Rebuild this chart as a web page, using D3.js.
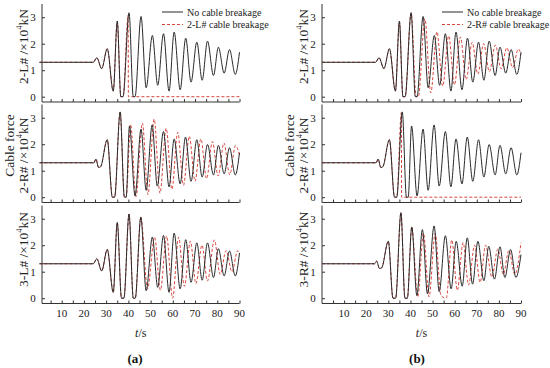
<!DOCTYPE html>
<html>
<head>
<meta charset="utf-8">
<script src="https://cdn.jsdelivr.net/npm/d3@7"></script>
<style>
  body { margin: 0; background: #fff; }
  svg { display: block; font-family: "Liberation Serif", "Times New Roman", serif; }
</style>
</head>
<body>
<div id="chart"></div>
<script>
// Data: [t (s), cable force (x10^4 kN)] -----------------------------------------------------------------------------
const xTicks = [10, 20, 30, 40, 50, 60, 70, 80, 90];
const yTicks = [0, 1, 2, 3];

// 2-L# cable, no breakage
const noBreak2L = [[0,1.3],[24.2,1.3],[25.8,1.47],[28,1.06],[30.5,1.81],[33.2,0.21],[35,2.85],[36.6,0],[37.6,0],
  [40.3,3.17],[42.2,0],[43,0],[45.7,3.03],[48,0.34],[50.8,2.31],[53.2,0.43],[55.8,2.38],[58.3,0.21],[60.6,2.44],
  [63.3,0.26],[65.8,2.21],[68.2,0.55],[70.8,2.06],[73.2,0.62],[75.6,2.1],[78.3,0.8],[80.5,1.87],[83.1,0.89],
  [85.5,1.78],[88.1,0.84],[90,1.68]];
// 2-L# cable when 2-L# breaks
const break2L_2L = [[0,1.3],[24.2,1.3],[25.8,1.47],[28,1.06],[30.5,1.81],[33.2,0.21],[35,2.85],[36.6,0],[37.6,0],
  [39.9,3.08],[40.0,0],[90,0]];
// 2-L# cable when 2-R# breaks
const break2R_2L = [[0,1.3],[24.2,1.3],[25.8,1.47],[28,1.06],[30.5,1.81],[33.2,0.21],[35,2.85],[36.6,0],[37.6,0],
  [40.3,3.17],[42.6,0],[43.6,0],[46.5,2.95],[49.2,0.15],[52,2.45],[54.6,0.4],[57.3,2.3],[59.9,0.45],[62.6,2.25],
  [65.2,0.65],[67.9,2.05],[70.5,0.85],[73.1,2.0],[75.7,0.95],[78.4,1.95],[81,1.05],[83.6,1.85],[86.2,1.1],
  [88.8,1.8],[90,1.6]];

// 2-R# cable, no breakage
const noBreak2R = [[0,1.3],[24.5,1.3],[25.4,1.44],[26.6,1.12],[27.5,1.15],[30.5,2.17],[32.8,0],[33.8,0],[36.3,3.22],
  [38.2,0],[39,0],[40.5,2.69],[43,0.05],[45.7,2.57],[48,0.26],[50.7,2.73],[53,0.42],[55.8,2.48],[58.3,0.39],
  [60.6,2.2],[63.3,0.5],[65.7,2.27],[68.2,0.6],[70.8,2.17],[73.2,0.76],[75.6,1.99],[78.3,0.84],[80.5,1.96],
  [83.1,0.88],[85.5,1.87],[88.1,0.84],[90,1.68]];
// 2-R# cable when 2-L# breaks
const break2L_2R = [[0,1.3],[24.5,1.3],[25.4,1.44],[26.6,1.12],[27.5,1.15],[30.5,2.17],[32.8,0],[33.8,0],[36.3,3.22],
  [38.2,0],[39,0],[41,2.75],[43.4,0.02],[46.3,2.8],[48.8,0.1],[51.6,2.95],[54.2,0.15],[57,2.6],[59.6,0.3],
  [62.2,2.45],[64.8,0.45],[67.4,2.3],[70,0.6],[72.6,2.2],[75.2,0.7],[77.8,2.1],[80.4,0.8],[83,2.05],[85.6,0.85],
  [88.2,1.95],[90,1.6]];
// 2-R# cable when 2-R# breaks
const break2R_2R = [[0,1.3],[24.5,1.3],[25.4,1.44],[26.6,1.12],[27.5,1.15],[30.5,2.17],[32.8,0],[33.8,0],
  [35.9,3.2],[36.0,0],[90,0]];

// 3-L# cable
const noBreak3L = [[0,1.3],[24.2,1.3],[25.8,1.49],[28,1.03],[30.5,1.84],[33.2,0.22],[35,2.86],[36.9,0],[38,0],
  [40.3,3.18],[42.2,0],[43.1,0],[45.6,3.06],[48,0.28],[50.8,2.31],[53.2,0.41],[55.8,2.37],[58.3,0.22],[60.6,2.46],
  [63.3,0.35],[65.8,2.21],[68.2,0.6],[70.8,2.09],[73.2,0.68],[75.6,2.09],[78.3,0.78],[80.5,1.87],[83.1,0.84],
  [85.5,1.78],[88.1,0.84],[90,1.71]];
const break2L_3L = [[0,1.3],[24.2,1.3],[25.8,1.49],[28,1.03],[30.5,1.84],[33.2,0.22],[35,2.86],[36.9,0],[38,0],
  [40.3,3.18],[42.2,0],[43.1,0],[45.6,3.06],[48.6,0.35],[51.8,2.3],[54.4,0.3],[57.2,2.35],[59.9,0],[62.6,2.3],
  [65.2,0.45],[67.9,2.15],[70.4,0.55],[73.1,2.0],[75.6,0.65],[78.7,2.2],[81.3,0.9],[84,1.8],[86.6,1.0],
  [89.2,1.8],[90,1.7]];

// 3-R# cable
const noBreak3R = [[0,1.3],[23.8,1.3],[24.7,1.4],[26,1.12],[27,1.15],[30,2.15],[32.1,0],[33.3,0],[35.7,3.23],
  [37.5,0],[38.6,0],[40.6,2.69],[42.9,0.1],[45.4,2.59],[47.7,0.16],[50.7,2.73],[53,0.25],[55.8,2.36],[58.4,0.35],
  [60.7,2.15],[63.4,0.45],[65.7,2.28],[68.1,0.53],[70.5,2.15],[73.2,0.66],[75.4,1.96],[78,0.72],[80.5,1.94],
  [82.7,0.78],[85.3,1.84],[87.7,0.78],[90,1.65]];
const break2R_3R = [[0,1.3],[23.8,1.3],[24.7,1.4],[26,1.12],[27,1.15],[30,2.15],[32.1,0],[33.3,0],[35.7,3.23],
  [37.5,0],[38.6,0],[40.6,2.69],[43.3,0.05],[45.9,2.45],[48.4,0.05],[51.2,2.45],[53.8,0.1],[56.2,0],[58.7,2.2],
  [61.2,0.3],[63.8,2.1],[66.3,0.5],[69,2.0],[71.5,0.6],[74,2.0],[76.8,0.8],[79.5,1.85],[82,0.9],[84.5,1.8],
  [87.2,0.9],[90,2.1]];

// Layout ---------------------------------------------------------------------------------------------------------
const width = 550;
const height = 368;
const panelTops = [4, 104.5, 205.5];
const panelHeight = 98;
const yDomain = [-0.2, 3.5];
const labelCenters = [46.5, 155.5, 249.5];

const sides = [
  { axisX: 42, xMin: 1, xRange: [41.7, 239.5], legendX: 162, letter: "(a)", letterX: 135,
    broken: "2-L#", panels: [
      { name: "2-L#", ref: noBreak2L, brk: break2L_2L },
      { name: "2-R#", ref: noBreak2R, brk: break2L_2R },
      { name: "3-L#", ref: noBreak3L, brk: break2L_3L }] },
  { axisX: 322, xMin: 0, xRange: [322, 521], legendX: 442, letter: "(b)", letterX: 417,
    broken: "2-R#", panels: [
      { name: "2-L#", ref: noBreak2L, brk: break2R_2L },
      { name: "2-R#", ref: noBreak2R, brk: break2R_2R },
      { name: "3-R#", ref: noBreak3R, brk: break2R_3R }] }
];

const axisColor = "#333";
const refColor = "#2a2a2a";
const brkColor = "#d9463e";

const svg = d3.select("#chart")
  .append("svg")
  .attr("width", width)
  .attr("height", height);

sides.forEach(function(side) {
  const xScale = d3.scaleLinear()
    .domain([side.xMin, 90])
    .range(side.xRange);

  side.panels.forEach(function(panel, i) {
    const top = panelTops[i];
    const yScale = d3.scaleLinear()
      .domain(yDomain)
      .range([top + panelHeight, top]);

    const g = svg.append("g");

    // y axis
    const yAxis = g.append("g")
      .attr("transform", "translate(" + side.axisX + ",0)")
      .call(d3.axisRight(yScale).tickValues(yTicks).tickSize(3).tickFormat(""));
    yAxis.select(".domain").attr("d", "M0," + top + "V" + (top + panelHeight));
    yAxis.selectAll("path, line").attr("stroke", axisColor).attr("stroke-width", 1);

    g.selectAll(".ylab")
      .data(yTicks)
      .join("text")
      .attr("x", side.axisX - 9)
      .attr("y", d => yScale(d) + 3.8)
      .attr("text-anchor", "middle")
      .attr("font-size", 11)
      .attr("fill", "#222")
      .text(d => d);

    // x axis, ticks pointing up
    const xAxis = g.append("g")
      .attr("transform", "translate(0," + (top + panelHeight) + ")")
      .call(d3.axisTop(xScale).tickValues(d3.range(5, 91, 5)).tickSize(3).tickFormat(""));
    xAxis.select(".domain").attr("d", "M" + side.axisX + ",0H" + side.xRange[1]);
    xAxis.selectAll("path, line").attr("stroke", axisColor).attr("stroke-width", 1);

    if (i === 2) {
      g.selectAll(".xlab")
        .data(xTicks)
        .join("text")
        .attr("x", d => xScale(d))
        .attr("y", top + panelHeight + 13)
        .attr("text-anchor", "middle")
        .attr("font-size", 11)
        .attr("fill", "#222")
        .text(d => d);
    }

    // y label
    const lx = side.axisX - 19;
    const label = g.append("text")
      .attr("transform", "translate(" + lx + "," + labelCenters[i] + ") rotate(-90)")
      .attr("text-anchor", "middle")
      .attr("dominant-baseline", "central")
      .attr("font-size", 13.5)
      .attr("fill", "#222");
    label.append("tspan").text(panel.name + " /\u00d710");
    label.append("tspan").attr("dy", -4.5).attr("font-size", 8.5).text("4");
    label.append("tspan").attr("dy", 4.5).text("kN");

    if (i === 1) {
      g.append("text")
        .attr("transform", "translate(" + (side.axisX - 33) + "," + (labelCenters[i] - 10) + ") rotate(-90)")
        .attr("text-anchor", "middle")
        .attr("dominant-baseline", "central")
        .attr("font-size", 13.5)
        .attr("fill", "#222")
        .text("Cable force");
    }

    // lines
    const line = d3.line()
      .x(d => xScale(d[0]))
      .y(d => yScale(d[1]))
      .curve(d3.curveMonotoneX);

    g.append("path")
      .attr("d", line(panel.brk))
      .attr("fill", "none")
      .attr("stroke", brkColor)
      .attr("stroke-width", 1)
      .attr("stroke-dasharray", "3,2");

    g.append("path")
      .attr("d", line(panel.ref))
      .attr("fill", "none")
      .attr("stroke", refColor)
      .attr("stroke-width", 1);
  });

  // legend
  const legend = svg.append("g");
  const rows = [
    { text: "No cable breakage", color: refColor, dash: null },
    { text: side.broken + " cable breakage", color: brkColor, dash: "3,2" }
  ];
  rows.forEach(function(r, k) {
    const y = 12 + k * 12.5;
    legend.append("line")
      .attr("x1", side.legendX).attr("x2", side.legendX + 21)
      .attr("y1", y).attr("y2", y)
      .attr("stroke", r.color)
      .attr("stroke-width", 1)
      .attr("stroke-dasharray", r.dash);
    legend.append("text")
      .attr("x", side.legendX + 25)
      .attr("y", y + 3.5)
      .attr("font-size", 10)
      .attr("fill", "#222")
      .text(r.text);
  });

  // axis title and panel letter
  const xMid = (side.axisX + side.xRange[1]) / 2;
  const title = svg.append("text")
    .attr("x", xMid)
    .attr("y", 336.5)
    .attr("text-anchor", "middle")
    .attr("font-size", 12)
    .attr("fill", "#222");
  title.append("tspan").attr("font-style", "italic").text("t");
  title.append("tspan").text("/s");

  svg.append("text")
    .attr("x", side.letterX)
    .attr("y", 363)
    .attr("text-anchor", "middle")
    .attr("font-size", 13)
    .attr("font-weight", "bold")
    .attr("fill", "#111")
    .text(side.letter);
});
</script>
</body>
</html>
